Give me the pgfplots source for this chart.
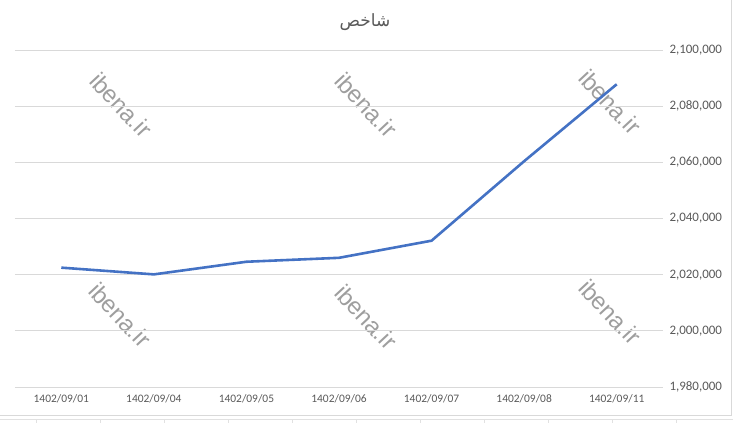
\documentclass[border=0pt]{standalone}
\usepackage{pgfplots}
\pgfplotsset{compat=1.18}
\usepackage{fontspec}
\setmainfont{Carlito}
\newfontfamily\arabicfont[Script=Arabic]{DejaVu Sans}
\newfontfamily\wmfont{Liberation Sans}
\TeXXeTstate=1
\definecolor{linecol}{HTML}{4472C4}
\definecolor{txtgray}{HTML}{595959}
\definecolor{gridgray}{HTML}{D9D9D9}
\definecolor{wmgray}{HTML}{9E9E9E}
\definecolor{cellgray}{HTML}{E1E1E1}
\begin{document}
\begin{tikzpicture}
\useasboundingbox (-15bp,-36bp) rectangle (718bp,387bp);
% chart frame (right and bottom edges) and sheet cells below
\draw[gridgray, line width=1bp] (716bp,387bp) -- (716bp,-28bp) -- (-15bp,-28bp);
\draw[cellgray, line width=0.8bp] (-15bp,-32bp) -- (718bp,-32bp);
\foreach \cx in {21,85,149,213,277,341,405,469,533,597,661}{
  \draw[cellgray, line width=0.8bp] (\cx bp,-32bp) -- (\cx bp,-36bp);
}
\foreach \x/\y in {106/282,351/282,595/285,105/72,351/70,595/75}{
  \node[rotate=-47,text=wmgray,font=\wmfont\fontsize{24}{26}\selectfont] at (\x bp,\y bp) {ibena.ir};
}
\begin{axis}[
  at={(0,0)}, anchor=south west,
  scale only axis, width=648bp, height=337bp,
  xmin=-0.5, xmax=6.5, ymin=1980000, ymax=2100000,
  xtick={0,1,2,3,4,5,6},
  xticklabels={1402/09/01,1402/09/04,1402/09/05,1402/09/06,1402/09/07,1402/09/08,1402/09/11},
  ytick={1980000,2000000,2020000,2040000,2060000,2080000,2100000},
  yticklabel pos=right,
  scaled y ticks=false,
  /pgf/number format/.cd, fixed, 1000 sep={,}, assume math mode=true, /pgfplots/.cd,
  ymajorgrids, grid style={gridgray, line width=0.8bp},
  axis line style={draw=none},
  major tick length=0pt,
  xticklabel style={text=txtgray, font=\fontsize{11.5}{13}\selectfont, yshift=-4bp},
  yticklabel style={text=txtgray, font=\fontsize{13}{15}\selectfont, xshift=3bp},
  clip=false,
]
\addplot[linecol, line width=2.6bp] coordinates {
  (0,2022500) (1,2020100) (2,2024600) (3,2026000) (4,2032100) (5,2060400) (6,2087800)
};
\end{axis}
\node[text=txtgray, font=\arabicfont\fontsize{17}{19}\selectfont] at (350bp,365bp) {\beginR شاخص\endR};
\end{tikzpicture}
\end{document}
